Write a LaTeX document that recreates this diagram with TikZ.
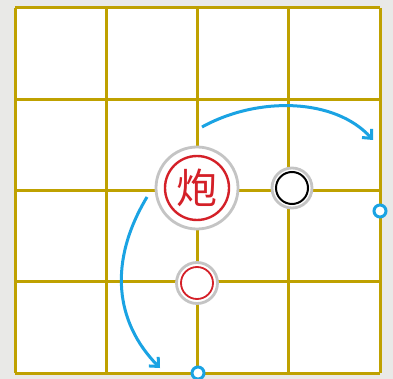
\documentclass[tikz,border=0pt]{standalone}
\usepackage{fontspec}
\newfontfamily\cjk{Noto Sans CJK SC}
\usetikzlibrary{arrows.meta}
\definecolor{gridgold}{HTML}{BFA100}
\definecolor{moveblue}{HTML}{1AA3E3}
\definecolor{piecered}{HTML}{D42028}
\definecolor{ringgray}{HTML}{C4C4C4}
\definecolor{marble}{HTML}{E9E9E7}

\tikzset{
  gridline/.style={gridgold, line width=3pt},
  piece/.style={circle, fill=white, draw=ringgray, line width=2.8pt, inner sep=0pt},
  movearrow/.style={moveblue, line width=3pt, -{Straight Barb[length=7pt, width=13pt]}},
  target/.style={circle, fill=white, draw=moveblue, line width=3pt, minimum size=12pt, inner sep=0pt}
}

\begin{document}
\begin{tikzpicture}[x=1pt, y=-1pt]

% Background
\fill[marble] (0,0) rectangle (393,379);
\useasboundingbox (0,0) rectangle (393,379);
\fill[white] (15,8) rectangle (380,373);

% Board grid
\foreach \i in {0,...,4} {
  \draw[gridline] ({15+91.25*\i},8) -- ({15+91.25*\i},373);
  \draw[gridline] (15,{8+91.25*\i}) -- (380,{8+91.25*\i});
}

% Cannon
\node[piece, minimum size=82pt] (cannon) at (197,188) {};
\node[circle, draw=piecered, line width=2.4pt, minimum size=64pt, inner sep=0pt,
      text=piecered, font=\cjk\fontsize{41}{41}\selectfont] (cannonface) at (197,188) {炮};

% Black piece (screen)
\node[piece, minimum size=40pt] (black) at (292,188) {};
\node[circle, draw=black, line width=2pt, minimum size=32pt, inner sep=0pt] (blackface) at (292,188) {};

% Red empty piece
\node[piece, minimum size=41pt] (red) at (197,283) {};
\node[circle, draw=piecered, line width=1.8pt, minimum size=32pt, inner sep=0pt] (redface) at (197,283) {};

% Target points
\node[target] (capture) at (380,211) {};
\node[target] (bottom) at (198,373) {};

% Move arrows
\coordinate (rstart) at (202,127);
\coordinate (rend) at (373,140);
\coordinate (dstart) at (147,197);
\coordinate (dend) at (160,368);
\draw[movearrow] (rstart) .. controls (258,96) and (335,98) .. (rend);
\draw[movearrow] (dstart) .. controls (108,262) and (115,322) .. (dend);

\end{tikzpicture}
\end{document}
